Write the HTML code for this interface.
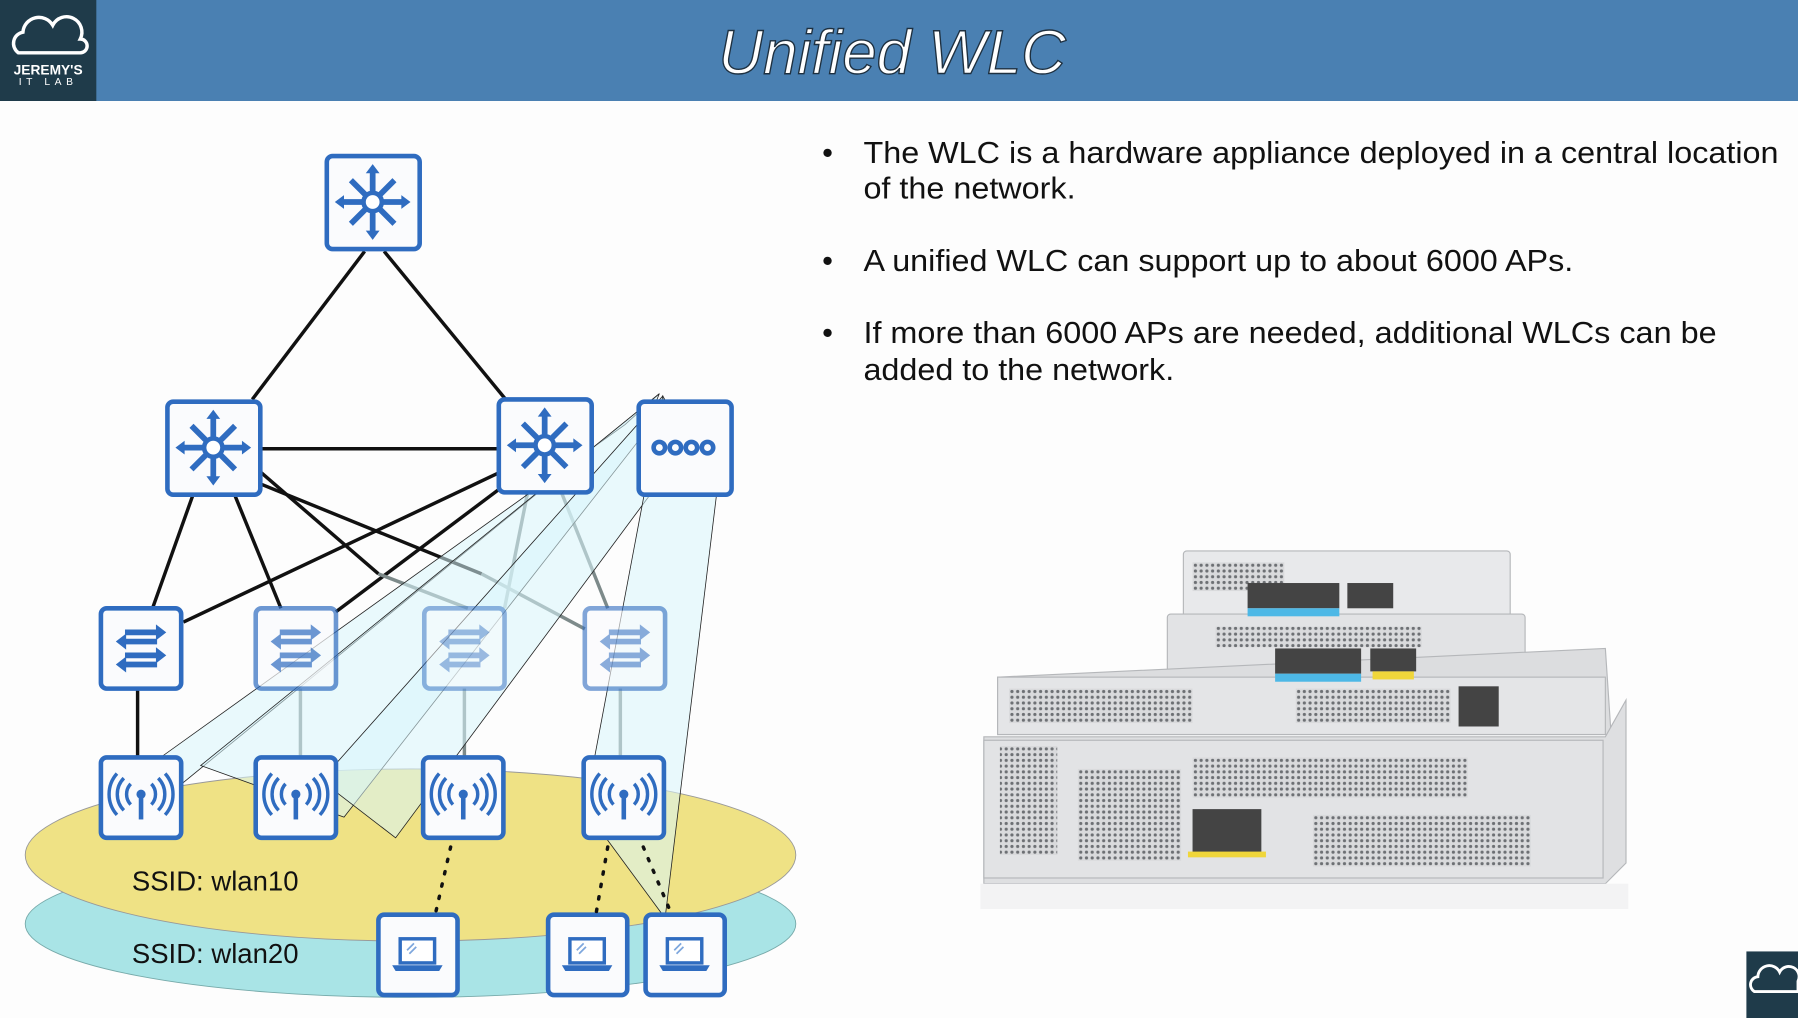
<!DOCTYPE html>
<html><head><meta charset="utf-8"><style>
html,body{margin:0;padding:0;background:#fdfdfd;}
svg{display:block;}
</style></head><body>
<svg width="1798" height="1018" viewBox="0 0 1568 887" preserveAspectRatio="none" xmlns="http://www.w3.org/2000/svg">
<defs>
<pattern id="dots" width="5" height="5" patternUnits="userSpaceOnUse"><rect width="5" height="5" fill="#d9dadc"/><circle cx="2.5" cy="2.5" r="1.4" fill="#6d7074"/></pattern>
<g id="l3">
<path d="M0,-27V27M-27,0H27M-19,-19L19,19M19,-19L-19,19" stroke="#2f6cc0" stroke-width="5"/>
<circle r="10" fill="#2f6cc0"/><circle r="6" fill="#fff"/>
<path d="M0,-33l-6,8h12zM0,33l-6,-8h12zM-33,0l8,-6v12zM33,0l-8,-6v12z" fill="#2f6cc0"/>
</g>
<g id="sw">
<path d="M-14,-14H18M14,-6H-18M-14,6H18M14,14H-18" stroke="#2f6cc0" stroke-width="5"/>
<path d="M22,-14l-9,-7v14zM-22,-6l9,-7v14zM22,6l-9,-7v14zM-22,14l9,-7v14z" fill="#2f6cc0"/>
</g>
<g id="ap" fill="none" stroke="#2f6cc0" stroke-width="3">
<circle r="4" fill="#2f6cc0" stroke="none"/><path d="M0,0V22" stroke-width="4"/>
<path d="M-9,-9a13,13 0 0 0 0,18M9,-9a13,13 0 0 1 0,18M-15,-14a20,20 0 0 0 0,28M15,-14a20,20 0 0 1 0,28M-21,-18a27,27 0 0 0 0,36M21,-18a27,27 0 0 1 0,36"/>
</g>
<g id="lt">
<rect x="-15" y="-14" width="30" height="21" fill="#fff" stroke="#2f6cc0" stroke-width="3"/>
<path d="M-22,9H22L19,14H-19Z" fill="#2f6cc0"/><path d="M-9,-4l6,-6M-7,-1l6,-6" stroke="#7ea7dd" stroke-width="1.5"/>
</g>
</defs>
<!-- header -->
<rect x="0" y="0" width="1568" height="88" fill="#4a80b2"/>
<rect x="0" y="0" width="84" height="88" fill="#1f3b4a"/>
<path d="M16,46a10,10 0 0 1 4,-18a14,14 0 0 1 26,-6a11,11 0 0 1 24,12a6,6 0 0 1 0,12z" fill="none" stroke="#fff" stroke-width="3"/>
<text x="42" y="65" text-anchor="middle" font-family="Liberation Sans,sans-serif" font-weight="bold" font-size="12" fill="#fff">JEREMY'S</text>
<text x="42" y="74" text-anchor="middle" font-family="Liberation Sans,sans-serif" font-size="9" letter-spacing="4" fill="#fff">IT LAB</text>
<text x="778" y="64" text-anchor="middle" font-family="Liberation Sans,sans-serif" font-style="italic" font-size="54" fill="#fff" stroke="#1e3040" stroke-width="1.2">Unified WLC</text>
<rect x="1523" y="829" width="45" height="58" fill="#1f3b4a"/>
<path d="M1530,864a7,7 0 0 1 3,-13a10,10 0 0 1 19,-4a8,8 0 0 1 16,8v9z" fill="none" stroke="#fff" stroke-width="2.5"/>
<!-- bullets -->
<g font-family="Liberation Sans,sans-serif" font-size="27" fill="#111">
<text x="717" y="142">•</text><text x="753" y="142" textLength="798" lengthAdjust="spacingAndGlyphs">The WLC is a hardware appliance deployed in a central location</text>
<text x="753" y="173" textLength="185" lengthAdjust="spacingAndGlyphs">of the network.</text>
<text x="717" y="236">•</text><text x="753" y="236" textLength="619" lengthAdjust="spacingAndGlyphs">A unified WLC can support up to about 6000 APs.</text>
<text x="717" y="299">•</text><text x="753" y="299" textLength="744" lengthAdjust="spacingAndGlyphs">If more than 6000 APs are needed, additional WLCs can be</text>
<text x="753" y="331" textLength="271" lengthAdjust="spacingAndGlyphs">added to the network.</text>
</g>
<!-- ellipses -->
<ellipse cx="358" cy="805" rx="336" ry="64" fill="#a9e4e6" stroke="#7aa" stroke-width="0.8"/>
<ellipse cx="358" cy="745" rx="336" ry="75" fill="#efe285" stroke="#999" stroke-width="0.8"/>
<g font-family="Liberation Sans,sans-serif" font-size="24" fill="#111">
<text x="115" y="776">SSID: wlan10</text><text x="115" y="839">SSID: wlan20</text></g>
<!-- lines -->
<g stroke="#111" stroke-width="3">
<line x1="318" y1="219" x2="220" y2="348"/><line x1="335" y1="219" x2="441" y2="348"/>
<line x1="228" y1="391" x2="435" y2="391"/>
<line x1="168" y1="432" x2="133" y2="530"/><line x1="205" y1="432" x2="245" y2="530"/>
<line x1="435" y1="412" x2="160" y2="542"/><line x1="437" y1="425" x2="293" y2="533"/>
<line x1="228" y1="412" x2="330" y2="500"/><line x1="228" y1="422" x2="420" y2="500"/>
<line x1="120" y1="600" x2="120" y2="660"/>
</g>
<g stroke="#7d8a8a" stroke-width="3">
<line x1="330" y1="500" x2="408" y2="530"/><line x1="420" y1="500" x2="510" y2="548"/>
<line x1="460" y1="430" x2="440" y2="530"/><line x1="490" y1="430" x2="530" y2="530"/>
<line x1="262" y1="600" x2="262" y2="660"/><line x1="405" y1="600" x2="405" y2="660"/><line x1="541" y1="600" x2="541" y2="660"/>
</g>
<!-- capwap fan -->
<g fill="#d8f6fb" fill-opacity="0.55" stroke="#222" stroke-width="0.7">
<polygon points="575,343 545,370 140,660 107,725"/>
<polygon points="575,343 560,380 300,712 175,667"/>
<polygon points="578,345 590,400 345,730 280,680"/>
<polygon points="578,345 625,430 580,800 510,705"/>
</g>
<!-- nodes -->
<g fill="#fafbfd" stroke="#2f6cc0" stroke-width="4">
<rect x="285" y="136" width="81" height="81" rx="5"/>
<rect x="146" y="350" width="81" height="81" rx="5"/>
<rect x="435" y="348" width="81" height="81" rx="5"/>
<rect x="557" y="350" width="81" height="81" rx="5"/>
<rect x="88" y="530" width="70" height="70" rx="5"/>
<rect x="223" y="530" width="70" height="70" rx="5" opacity="0.7"/>
<rect x="370" y="530" width="70" height="70" rx="5" opacity="0.5"/>
<rect x="510" y="530" width="70" height="70" rx="5" opacity="0.6"/>
<rect x="88" y="660" width="70" height="70" rx="5"/>
<rect x="223" y="660" width="70" height="70" rx="5"/>
<rect x="369" y="660" width="70" height="70" rx="5"/>
<rect x="509" y="660" width="70" height="70" rx="5"/>
<rect x="330" y="797" width="69" height="70" rx="5"/>
<rect x="478" y="797" width="69" height="70" rx="5"/>
<rect x="563" y="797" width="69" height="70" rx="5"/>
</g>
<use href="#l3" x="325" y="176"/><use href="#l3" x="186" y="390"/><use href="#l3" x="475" y="388"/>
<g fill="none" stroke="#2f6cc0" stroke-width="4"><circle cx="575" cy="390" r="5"/><circle cx="589" cy="390" r="5"/><circle cx="603" cy="390" r="5"/><circle cx="617" cy="390" r="5"/></g>
<use href="#sw" x="123" y="565"/><use href="#sw" x="258" y="565" opacity="0.7"/><use href="#sw" x="405" y="565" opacity="0.45"/><use href="#sw" x="545" y="565" opacity="0.55"/>
<use href="#ap" x="123" y="692"/><use href="#ap" x="258" y="692"/><use href="#ap" x="404" y="692"/><use href="#ap" x="544" y="692"/>
<use href="#lt" x="364" y="832"/><use href="#lt" x="512" y="832"/><use href="#lt" x="597" y="832"/>
<g stroke="#111" stroke-width="3" stroke-dasharray="2,9" stroke-linecap="round">
<line x1="393" y1="738" x2="380" y2="795"/><line x1="530" y1="738" x2="520" y2="795"/><line x1="561" y1="738" x2="585" y2="795"/></g>
<!-- WLC appliances -->
<g stroke="#b5b7ba" stroke-width="1">
<rect x="1032" y="480" width="285" height="60" rx="3" fill="#e8e9eb"/>
<rect x="1018" y="535" width="312" height="60" rx="3" fill="#e2e3e5"/>
<polygon points="870,590 1400,565 1405,640 870,640" fill="#dcdddf"/>
<rect x="870" y="590" width="530" height="50" fill="#e4e5e7"/>
<polygon points="858,642 1400,642 1418,610 1418,752 1400,770 858,770" fill="#dedfe1"/>
<rect x="858" y="645" width="540" height="120" fill="#e2e3e5"/>
</g>
<g fill="url(#dots)">
<rect x="1040" y="490" width="80" height="25"/><rect x="1060" y="546" width="180" height="18"/>
<rect x="880" y="600" width="160" height="30"/><rect x="1130" y="600" width="135" height="30"/>
<rect x="940" y="670" width="90" height="80"/><rect x="1040" y="660" width="240" height="35"/>
<rect x="1145" y="710" width="190" height="45"/><rect x="872" y="650" width="50" height="95"/>
</g>
<g fill="#444"><rect x="1088" y="508" width="80" height="22"/><rect x="1175" y="508" width="40" height="22"/><rect x="1112" y="565" width="75" height="22"/><rect x="1195" y="565" width="40" height="20"/><rect x="1040" y="705" width="60" height="40"/><rect x="1272" y="598" width="35" height="35"/></g>
<g fill="#4db8e6"><rect x="1088" y="530" width="80" height="7"/><rect x="1112" y="587" width="75" height="7"/></g>
<g fill="#f0d63a"><rect x="1197" y="585" width="36" height="7"/><rect x="1036" y="742" width="68" height="5"/></g>
<rect x="855" y="770" width="565" height="22" fill="#f3f3f4"/>
</svg>
</body></html>
